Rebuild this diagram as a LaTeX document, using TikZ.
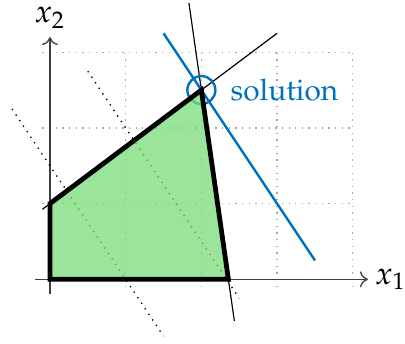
\documentclass[tikz,border=0pt]{standalone}
\usepackage[T1]{fontenc}
\usepackage{mathpazo}
\usetikzlibrary{arrows.meta}
\definecolor{solblue}{RGB}{0,114,189}
\definecolor{feasgreen}{RGB}{120,220,120}
\tikzset{
  gridline/.style={gray!70, dotted, line width=0.5pt},
  axisline/.style={black!75, line width=0.5pt, -{To[length=3pt,width=6pt]}},
  axislabel/.style={text=black, font=\large},
  constraint/.style={black, line width=0.45pt},
  level/.style={black, dotted, line width=0.5pt},
  objective/.style={solblue, line width=0.9pt},
  feasible/.style={fill=feasgreen, fill opacity=0.75, draw=black, line width=1.8pt, line join=miter, text opacity=1},
}
\begin{document}
\begin{tikzpicture}[x=1cm,y=1cm]
\useasboundingbox (-0.66,-0.845) rectangle (4.69,3.69);
% grid
\draw[gridline] (-0.1,-0.1) grid (4,3);
% axes
\coordinate (xs) at (-0.2,0);
\coordinate (xe) at (4.2,0);
\coordinate (ys) at (0,-0.2);
\coordinate (ye) at (0,3.2);
\draw[axisline] (xs) -- (xe) node[right, inner sep=2.5pt, axislabel] (xl) {$x_1$};
\draw[axisline] (ys) -- (ye) node[above, inner sep=3pt, axislabel] (yl) {$x_2$};
% level lines
\coordinate (l1a) at (-0.5,2.25);
\coordinate (l1b) at (1.5,-0.75);
\coordinate (l2a) at (0.5,2.75);
\coordinate (l2b) at (2.5,-0.25);
\draw[level] (l1a) -- (l1b);
\draw[level] (l2a) -- (l2b);
% constraints
\coordinate (c1a) at (-0.1,0.925);
\coordinate (c1b) at (3,3.25);
\coordinate (c2a) at (1.8357,3.65);
\coordinate (c2b) at (2.4357,-0.55);
\draw[constraint] (c1a) -- (c1b);
\draw[constraint] (c2a) -- (c2b);
% objective
\coordinate (oa) at (1.5,3.25);
\coordinate (ob) at (3.5,0.25);
\draw[objective] (oa) -- (ob);
% solution
\coordinate (sol) at (2,2.5);
\node[circle, draw=solblue, line width=0.9pt, minimum size=0.37cm, inner sep=0pt] (solc) at (sol) {};
\node[anchor=west, inner sep=0pt, text=solblue, font=\fontsize{11.2}{13}\selectfont] (soll) at ([xshift=0.18cm]solc.east) {solution};
% feasible region
\coordinate (p0) at (0,0);
\coordinate (p1) at (0,1);
\coordinate (p3) at (2.3571,0);
\draw[feasible] (p0) -- (p1) -- (sol) -- (p3) -- cycle;
\end{tikzpicture}
\end{document}
